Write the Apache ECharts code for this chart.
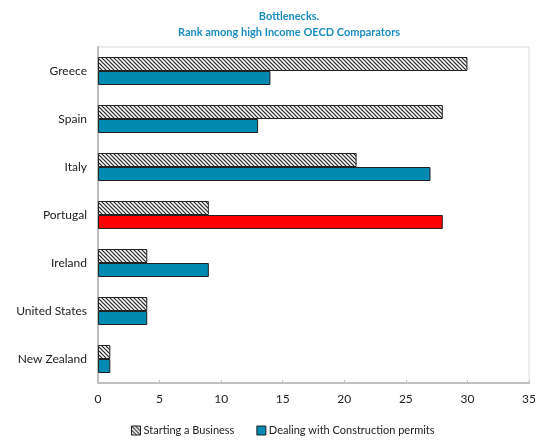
<!DOCTYPE html>
<html><head><meta charset="utf-8">
<script src="https://cdn.jsdelivr.net/npm/echarts@6/dist/echarts.min.js"></script>
<style>html,body{margin:0;padding:0;background:#fff}#c{width:541px;height:444px}</style>
</head><body><div id="c"></div>
<script>
const categories = ['Greece','Spain','Italy','Portugal','Ireland','United States','New Zealand'];
const startingBusiness = [30, 28, 21, 9, 4, 4, 1];
const constructionPermits = [14, 13, 27, 28, 9, 4, 1];
const xTicks = [0, 5, 10, 15, 20, 25, 30, 35];
const highlight = 'Portugal';

function hatch(){
  const s = 4;
  const c = document.createElement('canvas');
  c.width = s; c.height = s;
  const g = c.getContext('2d');
  g.fillStyle = '#fff'; g.fillRect(0,0,s,s);
  g.strokeStyle = '#222'; g.lineWidth = 1.2;
  g.beginPath();
  g.moveTo(-s,0); g.lineTo(s,2*s);
  g.moveTo(-s,-s); g.lineTo(2*s,2*s);
  g.moveTo(0,-s); g.lineTo(2*s,s);
  g.stroke();
  return c;
}
const pattern = {image: hatch(), repeat: 'repeat'};
const font = 'Lato';
const chart = echarts.init(document.getElementById('c'));
chart.setOption({
  animation: false,
  title: {
    text: 'Bottlenecks.\nRank among high Income OECD Comparators',
    left: 284, textAlign: 'center', top: 3,
    textStyle: {fontFamily: font, fontSize: 11, fontWeight: 'bold', color: '#1a8cc0', lineHeight: 16}
  },
  legend: {
    bottom: 3, left: 126, itemWidth: 9, itemHeight: 9, itemGap: 22,
    icon: 'rect',
    textStyle: {fontFamily: font, fontSize: 11, color: '#222', padding: [0,0,0,-2]},
    data: [
      {name: 'Starting a Business', itemStyle: {color: pattern, borderColor: '#222', borderWidth: 1}},
      {name: 'Dealing with Construction permits', itemStyle: {color: '#0089b1', borderColor: '#222', borderWidth: 1}}
    ]
  },
  grid: {left: 98, right: 12, top: 47, bottom: 61, containLabel: false,
         show: true, borderColor: '#d9d9d9', borderWidth: 1},
  xAxis: {
    type: 'value', min: xTicks[0], max: xTicks[xTicks.length-1], interval: 5,
    axisLine: {show: true, lineStyle: {color: '#bfbfbf', width: 2}},
    axisTick: {show: true, inside: true, length: 3, lineStyle: {color: '#bfbfbf'}},
    splitLine: {show: false},
    axisLabel: {fontFamily: font, fontSize: 12, color: '#222', margin: 10}
  },
  yAxis: {
    type: 'category', data: categories, inverse: true,
    axisLine: {show: true, lineStyle: {color: '#bfbfbf', width: 2}},
    axisTick: {show: false},
    axisLabel: {fontFamily: font, fontSize: 12, color: '#222', margin: 11}
  },
  series: [
    {name: 'Starting a Business', type: 'bar', data: startingBusiness, barWidth: 14, barGap: '0%',
     itemStyle: {color: pattern, borderColor: '#222', borderWidth: 1}},
    {name: 'Dealing with Construction permits', type: 'bar',
     data: constructionPermits.map((v,i)=> categories[i]===highlight ? {value: v, itemStyle: {color: '#ff0000'}} : v),
     barWidth: 14, barGap: '0%',
     itemStyle: {color: '#0089b1', borderColor: '#222', borderWidth: 1}}
  ]
});
</script></body></html>
